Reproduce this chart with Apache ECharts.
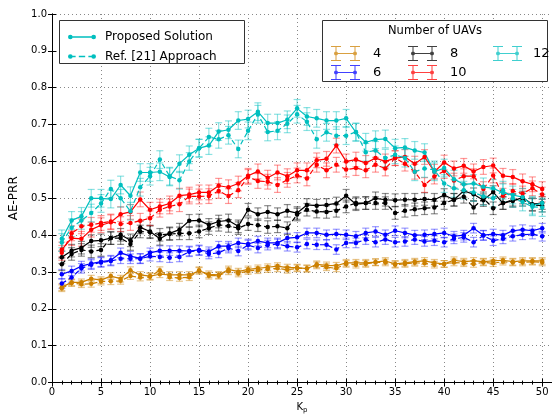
<!DOCTYPE html>
<html>
<head>
<meta charset="utf-8">
<script src="https://cdn.jsdelivr.net/npm/echarts@6/dist/echarts.min.js"></script>
<style>
  html, body { margin: 0; padding: 0; background: #fff; }
  #chart { width: 552px; height: 419px; }
</style>
</head>
<body>
<div id="chart"></div>
<script>
// Kp values on the x axis
const kp = [1,2,3,4,5,6,7,8,9,10,11,12,13,14,15,16,17,18,19,20,21,22,23,24,25,
            26,27,28,29,30,31,32,33,34,35,36,37,38,39,40,41,42,43,44,45,46,47,48,49,50];

// AE-PRR, proposed solution, per number of UAVs
const proposed4 = [0.259,0.272,0.272,0.282,0.278,0.289,0.282,0.305,0.292,0.289,
                   0.294,0.292,0.292,0.292,0.303,0.294,0.292,0.307,0.301,0.307,
                   0.310,0.313,0.316,0.312,0.312,0.309,0.321,0.318,0.317,0.325,
                   0.325,0.325,0.327,0.330,0.322,0.325,0.328,0.330,0.325,0.322,
                   0.332,0.328,0.330,0.328,0.330,0.332,0.328,0.330,0.330,0.330];
const proposed6 = [0.294,0.303,0.316,0.323,0.328,0.332,0.352,0.343,0.337,0.352,
                   0.358,0.358,0.358,0.357,0.360,0.355,0.370,0.370,0.379,0.376,
                   0.384,0.379,0.379,0.392,0.394,0.406,0.406,0.401,0.403,0.401,
                   0.397,0.406,0.410,0.401,0.412,0.406,0.400,0.401,0.403,0.406,
                   0.397,0.400,0.419,0.400,0.403,0.400,0.412,0.415,0.412,0.419];
const proposed8 = [0.340,0.358,0.366,0.384,0.386,0.392,0.401,0.386,0.421,0.410,
                   0.390,0.405,0.415,0.439,0.440,0.428,0.437,0.440,0.424,0.469,
                   0.457,0.463,0.457,0.466,0.460,0.482,0.480,0.482,0.486,0.507,
                   0.484,0.487,0.500,0.496,0.495,0.496,0.496,0.498,0.496,0.509,
                   0.496,0.520,0.511,0.495,0.517,0.487,0.493,0.502,0.484,0.487];
const proposed10 = [0.361,0.392,0.390,0.415,0.427,0.435,0.457,0.463,0.497,0.469,
                    0.478,0.486,0.507,0.510,0.516,0.516,0.534,0.530,0.540,0.561,
                    0.573,0.556,0.570,0.560,0.576,0.576,0.603,0.607,0.643,0.600,
                    0.605,0.596,0.609,0.600,0.609,0.612,0.594,0.612,0.572,0.597,
                    0.581,0.588,0.573,0.585,0.589,0.561,0.558,0.546,0.538,0.525];
const proposed12 = [0.390,0.440,0.451,0.500,0.500,0.498,0.536,0.507,0.570,0.570,
                    0.572,0.558,0.594,0.618,0.636,0.643,0.681,0.686,0.711,0.715,
                    0.735,0.704,0.704,0.713,0.744,0.722,0.717,0.711,0.711,0.717,
                    0.679,0.652,0.659,0.661,0.636,0.638,0.630,0.624,0.572,0.582,
                    0.552,0.538,0.540,0.531,0.527,0.515,0.509,0.503,0.481,0.487];

// AE-PRR, Ref. [21] approach, per number of UAVs
const ref4 = [0.256,0.270,0.267,0.268,0.274,0.275,0.276,0.289,0.285,0.287,
              0.305,0.286,0.284,0.286,0.305,0.290,0.290,0.302,0.296,0.303,
              0.305,0.308,0.310,0.306,0.310,0.310,0.318,0.313,0.310,0.322,
              0.320,0.322,0.326,0.326,0.320,0.322,0.325,0.324,0.320,0.322,
              0.326,0.324,0.322,0.326,0.324,0.328,0.326,0.326,0.328,0.326];
const ref6 = [0.269,0.285,0.310,0.320,0.326,0.330,0.336,0.336,0.336,0.343,
              0.341,0.339,0.341,0.355,0.358,0.349,0.352,0.365,0.357,0.373,
              0.365,0.373,0.376,0.370,0.367,0.376,0.374,0.374,0.361,0.379,
              0.379,0.388,0.381,0.388,0.381,0.383,0.388,0.383,0.385,0.381,
              0.390,0.394,0.381,0.399,0.385,0.390,0.397,0.401,0.403,0.397];
const ref8 = [0.321,0.349,0.360,0.356,0.360,0.392,0.392,0.376,0.410,0.408,
              0.401,0.403,0.405,0.405,0.410,0.419,0.428,0.425,0.419,0.430,
              0.427,0.422,0.424,0.419,0.456,0.469,0.464,0.463,0.466,0.478,
              0.487,0.487,0.487,0.487,0.460,0.466,0.470,0.473,0.475,0.487,
              0.496,0.504,0.475,0.500,0.473,0.487,0.496,0.496,0.482,0.480];
const ref10 = [0.352,0.405,0.424,0.428,0.433,0.437,0.430,0.433,0.439,0.446,
               0.469,0.478,0.484,0.505,0.505,0.506,0.520,0.506,0.522,0.558,
               0.547,0.545,0.536,0.550,0.562,0.554,0.591,0.576,0.591,0.578,
               0.582,0.576,0.591,0.581,0.609,0.594,0.572,0.536,0.559,0.574,
               0.548,0.560,0.560,0.525,0.562,0.507,0.520,0.513,0.527,0.510];
const ref12 = [0.380,0.420,0.440,0.460,0.486,0.525,0.500,0.465,0.530,0.560,
               0.605,0.560,0.549,0.600,0.636,0.666,0.660,0.671,0.634,0.683,
               0.728,0.680,0.683,0.702,0.728,0.708,0.660,0.679,0.670,0.670,
               0.680,0.625,0.630,0.609,0.618,0.609,0.572,0.581,0.577,0.540,
               0.527,0.522,0.516,0.505,0.500,0.522,0.500,0.490,0.477,0.475];

// Half-width of the error bars, per number of UAVs
const uavCounts = [4, 6, 8, 10, 12];
const errHalf = [0.009, 0.013, 0.017, 0.020, 0.024];
const proposedByUav = [proposed4, proposed6, proposed8, proposed10, proposed12];
const refByUav = [ref4, ref6, ref8, ref10, ref12];

// Styling
const FONT = 'DejaVu Sans';
const colors = ['#cc8000', '#0000ff', '#000000', '#ff0000', '#00bfbf'];
const barColors = ['rgba(204,128,0,0.45)', 'rgba(0,0,255,0.4)', 'rgba(0,0,0,0.45)',
                   'rgba(255,0,0,0.4)', 'rgba(0,191,191,0.45)'];

const iconSolid = 'path://M3,2.4H25V3.6H3Z M0.8,3A2.2,2.2 0 1 1 5.2,3A2.2,2.2 0 1 1 0.8,3Z M22.8,3A2.2,2.2 0 1 1 27.2,3A2.2,2.2 0 1 1 22.8,3Z';
const iconDashed = 'path://M3,2.4H8V3.6H3Z M11,2.4H17V3.6H11Z M20,2.4H25V3.6H20Z M0.8,3A2.2,2.2 0 1 1 5.2,3A2.2,2.2 0 1 1 0.8,3Z M22.8,3A2.2,2.2 0 1 1 27.2,3A2.2,2.2 0 1 1 22.8,3Z';
const iconErr = 'path://M0,0H10V1H0Z M0,14H10V15H0Z M4.5,0H5.5V15H4.5Z M19,0H29V1H19Z M19,14H29V15H19Z M23.5,0H24.5V15H23.5Z M5,7H24V8H5Z M3,7.5A2,2 0 1 1 7,7.5A2,2 0 1 1 3,7.5Z M22,7.5A2,2 0 1 1 26,7.5A2,2 0 1 1 22,7.5Z';

function errorBar(params, api) {
  const x = api.value(0), y = api.value(1), e = api.value(2);
  const hi = api.coord([x, y + e]);
  const lo = api.coord([x, y - e]);
  const w = 3.5;
  const style = { stroke: api.visual('color'), lineWidth: 1.2, fill: null };
  return {
    type: 'group',
    children: [
      { type: 'line', shape: { x1: hi[0], y1: hi[1], x2: lo[0], y2: lo[1] }, style: style },
      { type: 'line', shape: { x1: hi[0] - w, y1: hi[1], x2: hi[0] + w, y2: hi[1] }, style: style },
      { type: 'line', shape: { x1: lo[0] - w, y1: lo[1], x2: lo[0] + w, y2: lo[1] }, style: style }
    ]
  };
}

const series = [];
uavCounts.forEach(function (n, i) {
  [proposedByUav[i], refByUav[i]].forEach(function (vals) {
    series.push({
      name: String(n),
      type: 'custom',
      renderItem: errorBar,
      itemStyle: { color: barColors[i] },
      data: kp.map(function (k, j) { return [k, vals[j], errHalf[i]]; }),
      z: 2,
      silent: true
    });
  });
});
uavCounts.forEach(function (n, i) {
  series.push({
    name: 'Proposed Solution',
    type: 'line',
    data: kp.map(function (k, j) { return [k, proposedByUav[i][j]]; }),
    symbol: 'circle',
    symbolSize: 4.5,
    itemStyle: { color: colors[i] },
    lineStyle: { color: colors[i], width: 1.2 },
    z: 3
  });
  series.push({
    name: 'Ref. [21] Approach',
    type: 'line',
    data: kp.map(function (k, j) { return [k, refByUav[i][j]]; }),
    symbol: 'circle',
    symbolSize: 4.5,
    itemStyle: { color: colors[i] },
    lineStyle: { color: colors[i], width: 1.2, type: [5, 3] },
    z: 3
  });
});

const gridLine = { show: true, lineStyle: { color: '#888', width: 1, type: [1, 3] } };
const axisLine = { show: true, lineStyle: { color: '#000', width: 1 } };

const uavLegend = function (left, names, padLeft) {
  return {
    left: left, top: 41, orient: 'vertical',
    itemWidth: 29, itemHeight: 15, itemGap: 4,
    selectedMode: false,
    itemStyle: { borderWidth: 0 },
    textStyle: { fontFamily: FONT, fontSize: 13, color: '#000', padding: [0, 0, 0, padLeft] },
    data: names.map(function (nm) {
      const idx = uavCounts.indexOf(Number(nm));
      return { name: nm, icon: iconErr, itemStyle: { color: colors[idx], opacity: 0.75 } };
    })
  };
};

const option = {
  animation: false,
  backgroundColor: '#fff',
  textStyle: { fontFamily: FONT },
  // x runs a little past 50 so the right frame sits just outside the canvas
  grid: { left: 52, right: -3.4, top: 14, bottom: 33, show: false },
  xAxis: [
    {
      type: 'value', min: 0, max: 51, interval: 5, position: 'bottom',
      axisLine: axisLine,
      axisTick: { show: true, inside: true, length: 4, lineStyle: { color: '#000' } },
      minorTick: { show: true, splitNumber: 5, length: 2, lineStyle: { color: '#000' } },
      splitLine: gridLine,
      axisLabel: { fontSize: 10, color: '#000', margin: 5, fontFamily: FONT, showMaxLabel: false },
      name: 'K{p|p}', nameLocation: 'middle', nameGap: 17,
      nameTextStyle: { fontSize: 10, color: '#000', fontFamily: FONT,
        rich: { p: { fontSize: 7, verticalAlign: 'bottom', padding: [6, 0, 0, 0], fontFamily: FONT } } }
    },
    {
      type: 'value', min: 0, max: 51, interval: 5, position: 'top',
      axisLine: axisLine,
      axisTick: { show: true, inside: true, length: 4, lineStyle: { color: '#000' } },
      minorTick: { show: true, splitNumber: 5, length: 2, lineStyle: { color: '#000' } },
      splitLine: { show: false },
      axisLabel: { show: false }
    }
  ],
  yAxis: [
    {
      type: 'value', min: 0, max: 1, interval: 0.1, position: 'left',
      axisLine: axisLine,
      axisTick: { show: true, inside: true, length: 4, lineStyle: { color: '#000' } },
      splitLine: gridLine,
      axisLabel: { fontSize: 10, color: '#000', margin: 5, fontFamily: FONT,
        formatter: function (v) { return v.toFixed(1); } },
      name: 'AE-PRR', nameLocation: 'middle', nameGap: 25, nameRotate: 90,
      nameTextStyle: { fontSize: 12, color: '#000', fontFamily: FONT }
    },
    {
      type: 'value', min: 0, max: 1, interval: 0.1, position: 'right',
      axisLine: axisLine,
      axisTick: { show: true, inside: true, length: 4, lineStyle: { color: '#000' } },
      splitLine: { show: false },
      axisLabel: { show: false }
    }
  ],
  legend: [
    {
      left: 63, top: 26, orient: 'vertical',
      itemWidth: 28, itemHeight: 7, itemGap: 7.5,
      selectedMode: false,
      itemStyle: { borderWidth: 0 },
      textStyle: { fontFamily: FONT, fontSize: 12, color: '#000', padding: [0, 0, 0, 4] },
      data: [
        { name: 'Proposed Solution', icon: iconSolid, itemStyle: { color: colors[4] } },
        { name: 'Ref. [21] Approach', icon: iconDashed, itemStyle: { color: colors[4] } }
      ]
    },
    uavLegend(326, ['4', '6'], 8),
    uavLegend(403, ['8', '10'], 8),
    uavLegend(488, ['12'], 6)
  ],
  graphic: [
    { type: 'rect', z: 3, shape: { x: 59.5, y: 20.5, width: 185, height: 43 },
      style: { fill: '#fff', stroke: '#333', lineWidth: 1 } },
    { type: 'rect', z: 3, shape: { x: 322.5, y: 20.5, width: 225, height: 61 },
      style: { fill: '#fff', stroke: '#333', lineWidth: 1 } },
    { type: 'text', z: 5, x: 435, y: 31,
      style: { text: 'Number of UAVs', fontFamily: FONT, fontSize: 11.5, fill: '#000',
               textAlign: 'center', textVerticalAlign: 'middle' } }
  ],
  series: series
};

const chart = echarts.init(document.getElementById('chart'), null, { renderer: 'canvas' });
chart.setOption(option);
</script>
</body>
</html>
